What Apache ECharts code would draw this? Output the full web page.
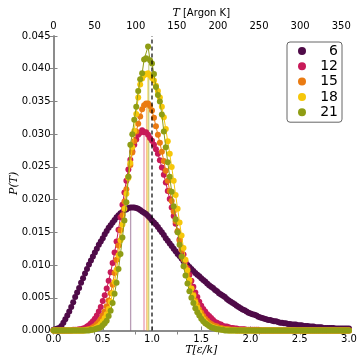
<!DOCTYPE html>
<html><head><meta charset="utf-8">
<script src="https://cdn.jsdelivr.net/npm/echarts@6/dist/echarts.min.js"></script>
<style>html,body{margin:0;padding:0;background:#fff}#c{width:360px;height:360px}</style>
</head><body><div id="c"></div>
<script>
const temps = [0.00,0.02,0.04,0.06,0.08,0.10,0.12,0.14,0.16,0.18,
0.20,0.22,0.24,0.26,0.28,0.30,0.32,0.34,0.36,0.38,
0.40,0.42,0.44,0.46,0.48,0.50,0.52,0.54,0.56,0.58,
0.60,0.62,0.64,0.66,0.68,0.70,0.72,0.74,0.76,0.78,
0.80,0.82,0.84,0.86,0.88,0.90,0.92,0.94,0.96,0.98,
1.00,1.02,1.04,1.06,1.08,1.10,1.12,1.14,1.16,1.18,
1.20,1.22,1.24,1.26,1.28,1.30,1.32,1.34,1.36,1.38,
1.40,1.42,1.44,1.46,1.48,1.50,1.52,1.54,1.56,1.58,
1.60,1.62,1.64,1.66,1.68,1.70,1.72,1.74,1.76,1.78,
1.80,1.82,1.84,1.86,1.88,1.90,1.92,1.94,1.96,1.98,
2.00,2.02,2.04,2.06,2.08,2.10,2.12,2.14,2.16,2.18,
2.20,2.22,2.24,2.26,2.28,2.30,2.32,2.34,2.36,2.38,
2.40,2.42,2.44,2.46,2.48,2.50,2.52,2.54,2.56,2.58,
2.60,2.62,2.64,2.66,2.68,2.70,2.72,2.74,2.76,2.78,
2.80,2.82,2.84,2.86,2.88,2.90,2.92,2.94,2.96,2.98,
3.00];
const seriesNames = ['6','12','15','18','21'];
const p6 = [0.0001,0.0002,0.0003,0.0004,0.0007,0.0012,0.0017,0.0023,0.0029,0.0036,
0.0043,0.0051,0.0058,0.0065,0.0073,0.0080,0.0087,0.0094,0.0101,0.0107,
0.0113,0.0119,0.0125,0.0131,0.0136,0.0141,0.0147,0.0152,0.0157,0.0161,
0.0165,0.0169,0.0173,0.0176,0.0179,0.0181,0.0184,0.0185,0.0187,0.0188,
0.0188,0.0188,0.0187,0.0186,0.0184,0.0182,0.0180,0.0178,0.0175,0.0172,
0.0168,0.0165,0.0162,0.0158,0.0154,0.0150,0.0146,0.0141,0.0137,0.0133,
0.0129,0.0125,0.0121,0.0117,0.0114,0.0110,0.0106,0.0103,0.0100,0.0097,
0.0094,0.0091,0.0088,0.0085,0.0083,0.0080,0.0077,0.0075,0.0072,0.0069,
0.0067,0.0065,0.0062,0.0060,0.0057,0.0055,0.0053,0.0051,0.0048,0.0046,
0.0044,0.0042,0.0040,0.0038,0.0036,0.0034,0.0032,0.0031,0.0029,0.0027,
0.0026,0.0025,0.0024,0.0023,0.0021,0.0020,0.0019,0.0018,0.0017,0.0016,
0.0016,0.0015,0.0014,0.0014,0.0013,0.0012,0.0012,0.0011,0.0011,0.0010,
0.0010,0.0009,0.0009,0.0009,0.0008,0.0008,0.0008,0.0007,0.0007,0.0007,
0.0006,0.0006,0.0006,0.0005,0.0005,0.0005,0.0005,0.0004,0.0004,0.0004,
0.0004,0.0004,0.0004,0.0003,0.0003,0.0003,0.0003,0.0003,0.0003,0.0003,
0.0003];
const p12 = [0,0,0,0,0,0,0,0,0,0,
0.0001,0.0001,0.0001,0.0002,0.0002,0.0003,0.0004,0.0006,0.0008,0.0011,
0.0014,0.0018,0.0023,0.0029,0.0036,0.0045,0.0054,0.0064,0.0076,0.0089,
0.0103,0.0119,0.0136,0.0154,0.0173,0.0192,0.0211,0.0229,0.0246,0.0261,
0.0274,0.0284,0.0292,0.0299,0.0302,0.0306,0.0303,0.0303,0.0299,0.0294,
0.0290,0.0284,0.0277,0.0270,0.0260,0.0249,0.0238,0.0226,0.0213,0.0201,
0.0188,0.0175,0.0163,0.0151,0.0139,0.0127,0.0116,0.0105,0.0095,0.0085,
0.0076,0.0067,0.0058,0.0051,0.0044,0.0038,0.0033,0.0029,0.0025,0.0022,
0.0019,0.0016,0.0013,0.0012,0.0010,0.0009,0.0007,0.0006,0.0006,0.0005,
0.0004,0.0004,0.0003,0.0003,0.0002,0.0002,0.0002,0.0002,0.0001,0.0001,
0.0001,0.0001,0.0001,0.0001,0.0001,0,0,0,0,0,
0,0,0,0,0,0,0,0,0,0,
0,0,0,0,0,0,0,0,0,0,
0,0,0,0,0,0,0,0,0,0,
0,0,0,0,0,0,0,0,0,0,
0];
const p15 = [0,0,0,0,0,0,0,0,0,0,
0,0,0,0,0,0,0.0001,0.0001,0.0002,0.0003,
0.0005,0.0007,0.0010,0.0013,0.0017,0.0023,0.0029,0.0037,0.0046,0.0057,
0.0070,0.0088,0.0108,0.0130,0.0153,0.0176,0.0197,0.0216,0.0235,0.0253,
0.0272,0.0289,0.0304,0.0316,0.0327,0.0338,0.0344,0.0347,0.0347,0.0343,
0.0336,0.0325,0.0312,0.0299,0.0287,0.0273,0.0259,0.0244,0.0229,0.0213,
0.0198,0.0182,0.0167,0.0152,0.0137,0.0123,0.0109,0.0097,0.0085,0.0074,
0.0064,0.0055,0.0046,0.0039,0.0032,0.0027,0.0022,0.0018,0.0015,0.0012,
0.0010,0.0008,0.0007,0.0006,0.0004,0.0004,0.0003,0.0002,0.0002,0.0002,
0.0001,0.0001,0.0001,0,0,0,0,0,0,0,
0,0,0,0,0,0,0,0,0,0,
0,0,0,0,0,0,0,0,0,0,
0,0,0,0,0,0,0,0,0,0,
0,0,0,0,0,0,0,0,0,0,
0,0,0,0,0,0,0,0,0,0,
0];
const p18 = [0,0,0,0,0,0,0,0,0,0,
0,0,0,0,0,0,0,0.0001,0.0001,0.0001,
0.0002,0.0003,0.0005,0.0007,0.0010,0.0014,0.0019,0.0025,0.0033,0.0044,
0.0057,0.0074,0.0093,0.0115,0.0138,0.0162,0.0186,0.0209,0.0233,0.0256,
0.0280,0.0305,0.0331,0.0356,0.0376,0.0385,0.0390,0.0392,0.0393,0.0390,
0.0386,0.0382,0.0374,0.0366,0.0356,0.0342,0.0326,0.0308,0.0289,0.0270,
0.0250,0.0229,0.0207,0.0186,0.0165,0.0145,0.0126,0.0108,0.0092,0.0077,
0.0064,0.0053,0.0043,0.0035,0.0028,0.0022,0.0017,0.0013,0.0010,0.0008,
0.0006,0.0005,0.0004,0.0003,0.0002,0.0002,0.0001,0.0001,0.0001,0,
0,0,0,0,0,0,0,0,0,0,
0,0,0,0,0,0,0,0,0,0,
0,0,0,0,0,0,0,0,0,0,
0,0,0,0,0,0,0,0,0,0,
0,0,0,0,0,0,0,0,0,0,
0,0,0,0,0,0,0,0,0,0,
0];
const p21 = [0,0,0,0,0,0,0,0,0,0,
0,0,0,0,0,0,0,0,0,0.0001,
0.0001,0.0002,0.0003,0.0004,0.0005,0.0008,0.0011,0.0015,0.0022,0.0030,
0.0042,0.0056,0.0073,0.0094,0.0117,0.0142,0.0168,0.0196,0.0235,0.0284,
0.0300,0.0322,0.0342,0.0366,0.0384,0.0393,0.0414,0.0416,0.0434,0.0413,
0.0408,0.0392,0.0372,0.0360,0.0350,0.0330,0.0304,0.0280,0.0257,0.0235,
0.0212,0.0190,0.0170,0.0150,0.0131,0.0113,0.0098,0.0084,0.0072,0.0060,
0.0050,0.0042,0.0034,0.0028,0.0023,0.0018,0.0014,0.0011,0.0009,0.0007,
0.0005,0.0004,0.0003,0.0002,0.0002,0.0001,0.0001,0,0,0,
0,0,0,0,0,0,0,0,0,0,
0,0,0,0,0,0,0,0,0,0,
0,0,0,0,0,0,0,0,0,0,
0,0,0,0,0,0,0,0,0,0,
0,0,0,0,0,0,0,0,0,0,
0,0,0,0,0,0,0,0,0,0,
0];
const modeT = [0.783, 0.919, 0.945, 0.957, 0.967];
const modeP = [0.0188, 0.0305, 0.0347, 0.0392, 0.0420];
const refT = 1.0;
const argonPerUnit = 119.8;
const colors = ['#4f0b48','#c81a59','#ea7b12','#f6c70a','#8f9d14'];
const modeColors = ['rgba(79,11,72,0.4)','rgba(200,26,89,0.45)','rgba(234,123,18,0.45)','rgba(246,199,10,0.5)','rgba(143,157,20,0.45)'];

const allVals = [p6, p12, p15, p18, p21];
const axisGray = '#858585';
const chart = echarts.init(document.getElementById('c'), null, {renderer: 'canvas'});
const series = [];
modeT.forEach((m, k) => {
  series.push({type: 'line', xAxisIndex: 0, yAxisIndex: 0, data: [[m, 0], [m, modeP[k]]],
    symbol: 'none', silent: true, lineStyle: {color: modeColors[k], width: 1.3}, z: 1});
});
allVals.forEach((vals, k) => {
  series.push({name: seriesNames[k], type: 'line', xAxisIndex: 0, yAxisIndex: 0,
    data: temps.map((t, i) => [t, vals[i]]),
    symbol: 'circle', symbolSize: 6, showSymbol: true,
    itemStyle: {color: colors[k]}, lineStyle: {color: colors[k], width: 1}, z: 2 + k});
});
series.push({type: 'line', xAxisIndex: 0, yAxisIndex: 0, data: [[refT, 0], [refT, 0.045]],
  symbol: 'none', silent: true, lineStyle: {color: '#000', width: 1.2, type: [4, 3]}, z: 10});

const labelFont = {fontFamily: 'DejaVu Sans', fontSize: 10, color: '#000'};
chart.setOption({
  animation: false,
  backgroundColor: '#fff',
  grid: {left: 53.5, right: 11, top: 36, bottom: 29.5, outerBoundsMode: 'none', containLabel: false},
  legend: {
    data: seriesNames, orient: 'vertical', left: 287, top: 42,
    icon: 'circle', itemWidth: 8, itemHeight: 8, itemGap: 1.3,
    padding: [2, 4, 3, 11],
    borderColor: '#666', borderWidth: 1, borderRadius: 3,
    formatter: n => '{n|' + n + '}',
    textStyle: {rich: {n: {width: 27, align: 'right', fontSize: 14, lineHeight: 16, fontFamily: 'DejaVu Sans', color: '#000'}}}
  },
  xAxis: [
    {type: 'value', position: 'bottom', min: 0, max: 3, interval: 0.5,
     name: 'T[ε/k]', nameLocation: 'middle', nameGap: 14, nameMoveOverlap: false,
     nameTextStyle: {fontFamily: 'DejaVu Serif', fontStyle: 'italic', fontSize: 11, color: '#000'},
     axisLine: {lineStyle: {color: axisGray, width: 1.5}},
     axisTick: {inside: true, length: 4, lineStyle: {color: axisGray}},
     axisLabel: Object.assign({margin: 4, formatter: v => v.toFixed(1)}, labelFont),
     splitLine: {show: false}},
    {type: 'value', position: 'top', min: 0, max: 3 * argonPerUnit, interval: 50,
     name: '{i|T} [Argon K]', nameLocation: 'middle', nameGap: 17, nameMoveOverlap: false,
     nameTextStyle: {fontFamily: 'DejaVu Sans', fontSize: 10, color: '#000',
       rich: {i: {fontFamily: 'DejaVu Serif', fontStyle: 'italic', fontSize: 11}}},
     axisLine: {lineStyle: {color: axisGray, width: 1.5}},
     axisTick: {inside: true, length: 4, lineStyle: {color: axisGray}},
     axisLabel: Object.assign({margin: 5, showMaxLabel: false, formatter: v => (v % 50 === 0 ? String(v) : '')}, labelFont),
     splitLine: {show: false}}
  ],
  yAxis: [
    {type: 'value', position: 'left', min: 0, max: 0.045, interval: 0.005,
     name: 'P(T)', nameLocation: 'middle', nameGap: 34, nameMoveOverlap: false,
     nameTextStyle: {fontFamily: 'DejaVu Serif', fontStyle: 'italic', fontSize: 11, color: '#000'},
     axisLine: {show: true, lineStyle: {color: axisGray, width: 1.5}},
     axisTick: {show: true, inside: true, length: 4, lineStyle: {color: axisGray}},
     axisLabel: Object.assign({margin: 3, formatter: v => v.toFixed(3)}, labelFont),
     splitLine: {show: false}},
    {type: 'value', position: 'right', min: 0, max: 0.045, interval: 0.005,
     axisLine: {show: true, lineStyle: {color: axisGray, width: 1.5}},
     axisTick: {show: true, inside: true, length: 4, lineStyle: {color: axisGray}},
     axisLabel: {show: false}, splitLine: {show: false}}
  ],
  series: series
});
</script></body></html>
